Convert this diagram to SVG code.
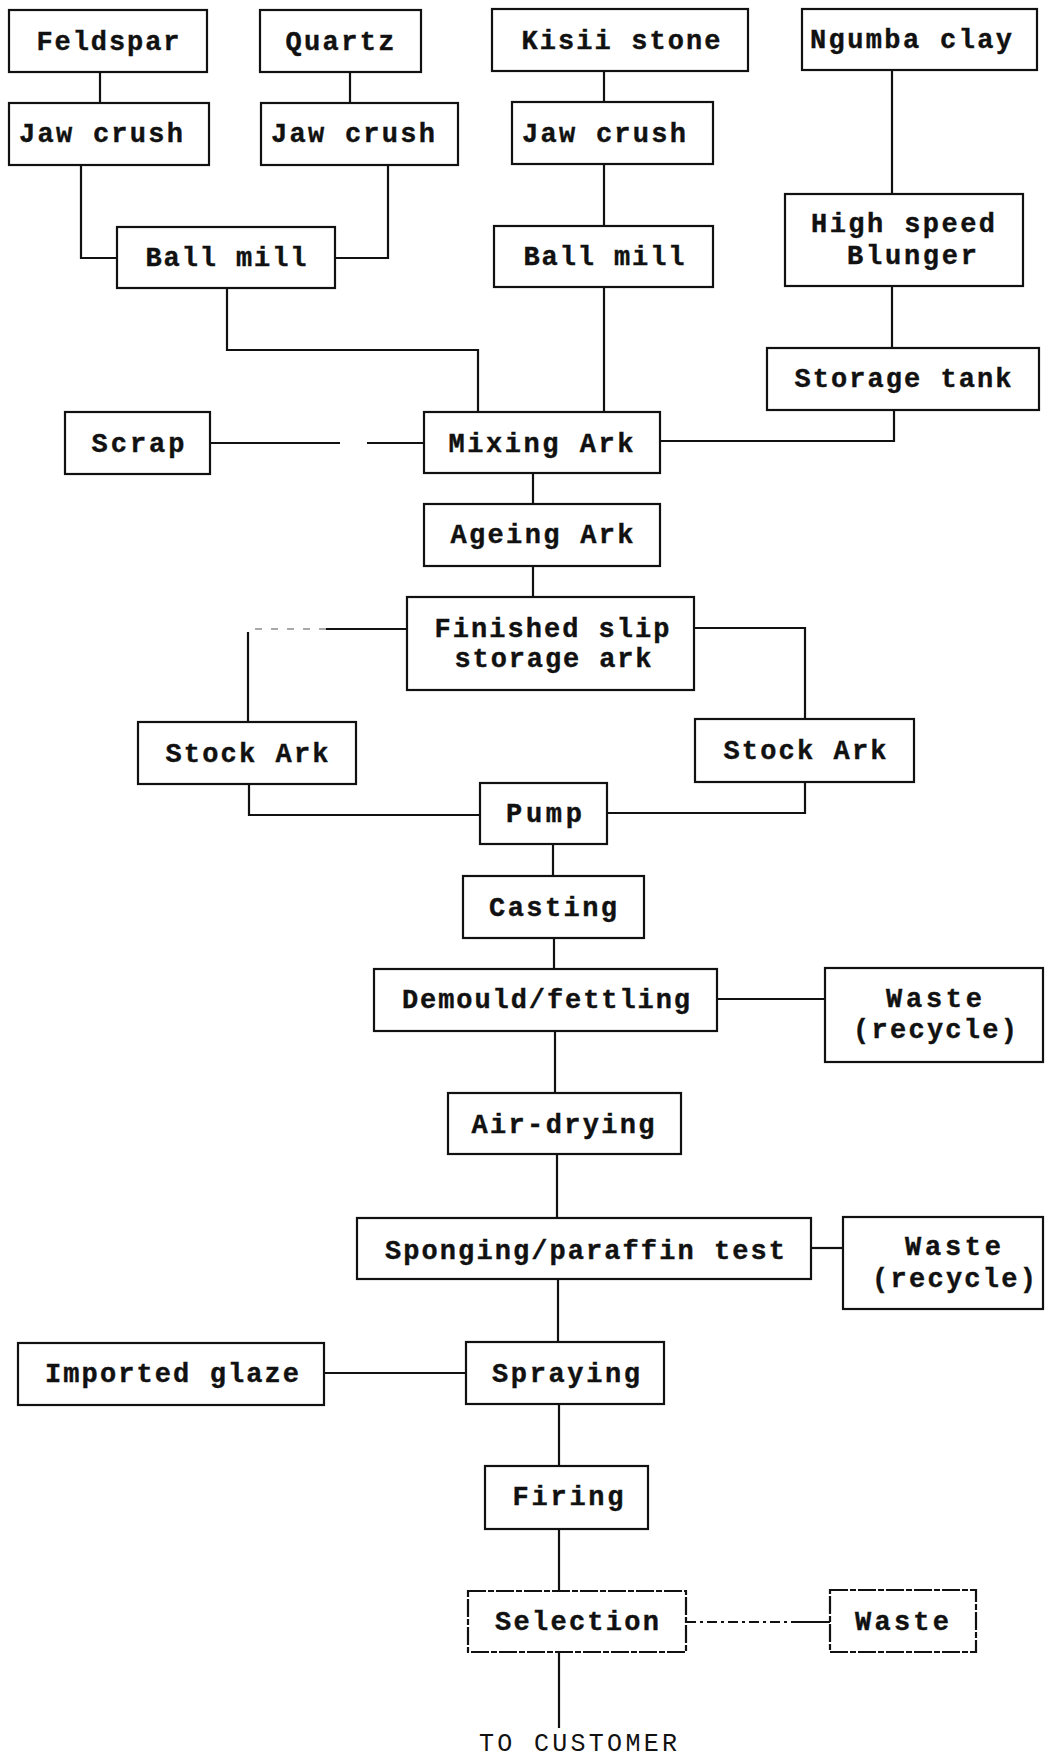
<svg xmlns="http://www.w3.org/2000/svg" width="1047" height="1757" viewBox="0 0 1047 1757">
<style>
.box{fill:#fff;stroke:#111;stroke-width:2.2}
.dbox{fill:#fff;stroke:#111;stroke-width:2.2;stroke-dasharray:18 2 6 2}
.t{font-family:"Liberation Mono",monospace;font-weight:bold;font-size:27px;fill:#111;stroke:#111;stroke-width:0.4;text-anchor:middle}
.tn{font-family:"Liberation Mono",monospace;font-weight:normal;font-size:25px;fill:#111;text-anchor:middle}
.c{fill:none;stroke:#111;stroke-width:2.2}
.cf{fill:none;stroke:#555;stroke-width:1.2;stroke-dasharray:7 9}
.cd{fill:none;stroke:#111;stroke-width:1.8;stroke-dasharray:10 4 3 4}
</style>
<rect width="1047" height="1757" fill="#fff"/>
<g id="connectors">
<path class="c" d="M100,72V103"/>
<path class="c" d="M350,72V103"/>
<path class="c" d="M81,165V258H117"/>
<path class="c" d="M388,165V258H335"/>
<path class="c" d="M227,288V350H478V412"/>
<path class="c" d="M604,71V102"/>
<path class="c" d="M604,164V226"/>
<path class="c" d="M604,287V412"/>
<path class="c" d="M892,70V194"/>
<path class="c" d="M892,286V348"/>
<path class="c" d="M894,410V441H660"/>
<path class="c" d="M210,443H340M367,443H424"/>
<path class="c" d="M533,473V504"/>
<path class="c" d="M533,566V597"/>
<path class="c" d="M407,629H326"/>
<path class="cf" d="M326,629H250"/>
<path class="c" d="M248,632V722"/>
<path class="c" d="M694,628H805V719"/>
<path class="c" d="M249,784V815H480"/>
<path class="c" d="M805,782V813H607"/>
<path class="c" d="M553,844V876"/>
<path class="c" d="M554,938V969"/>
<path class="c" d="M717,999H825"/>
<path class="c" d="M555,1031V1093"/>
<path class="c" d="M557,1154V1218"/>
<path class="c" d="M811,1248H843"/>
<path class="c" d="M558,1279V1342"/>
<path class="c" d="M324,1373H466"/>
<path class="c" d="M559,1404V1466"/>
<path class="c" d="M559,1529V1591"/>
<path class="cd" d="M686,1622H793"/>
<path class="c" d="M793,1622H830"/>
<path class="c" d="M559,1652V1728"/>
</g>
<g id="feldspar"><rect class="box" x="9" y="10" width="198" height="62"/><text class="t" x="108" y="50" textLength="143" lengthAdjust="spacing">Feldspar</text></g>
<g id="quartz"><rect class="box" x="260" y="10" width="161" height="62"/><text class="t" x="340" y="50" textLength="109" lengthAdjust="spacing">Quartz</text></g>
<g id="kisii"><rect class="box" x="492" y="9" width="256" height="62"/><text class="t" x="621" y="49" textLength="199" lengthAdjust="spacing">Kisii stone</text></g>
<g id="ngumba"><rect class="box" x="802" y="9" width="235" height="61"/><text class="t" x="911" y="48" textLength="202" lengthAdjust="spacing">Ngumba clay</text></g>
<g id="jaw1"><rect class="box" x="9" y="103" width="200" height="62"/><text class="t" x="101" y="142" textLength="164" lengthAdjust="spacing">Jaw crush</text></g>
<g id="jaw2"><rect class="box" x="261" y="103" width="197" height="62"/><text class="t" x="353" y="142" textLength="164" lengthAdjust="spacing">Jaw crush</text></g>
<g id="jaw3"><rect class="box" x="512" y="102" width="201" height="62"/><text class="t" x="604" y="142" textLength="164" lengthAdjust="spacing">Jaw crush</text></g>
<g id="ballmill1"><rect class="box" x="117" y="227" width="218" height="61"/><text class="t" x="226" y="266" textLength="161" lengthAdjust="spacing">Ball mill</text></g>
<g id="ballmill2"><rect class="box" x="494" y="226" width="219" height="61"/><text class="t" x="604" y="265" textLength="161" lengthAdjust="spacing">Ball mill</text></g>
<g id="blunger"><rect class="box" x="785" y="194" width="238" height="92"/><text class="t" x="903" y="232" textLength="184" lengthAdjust="spacing">High speed</text><text class="t" x="912" y="264" textLength="130" lengthAdjust="spacing">Blunger</text></g>
<g id="storagetank"><rect class="box" x="767" y="348" width="272" height="62"/><text class="t" x="903" y="387" textLength="217" lengthAdjust="spacing">Storage tank</text></g>
<g id="scrap"><rect class="box" x="65" y="412" width="145" height="62"/><text class="t" x="138" y="452" textLength="93" lengthAdjust="spacing">Scrap</text></g>
<g id="mixing"><rect class="box" x="424" y="412" width="236" height="61"/><text class="t" x="541" y="452" textLength="185" lengthAdjust="spacing">Mixing Ark</text></g>
<g id="ageing"><rect class="box" x="424" y="504" width="236" height="62"/><text class="t" x="542" y="543" textLength="183" lengthAdjust="spacing">Ageing Ark</text></g>
<g id="finished"><rect class="box" x="407" y="597" width="287" height="93"/><text class="t" x="552" y="637" textLength="235" lengthAdjust="spacing">Finished slip</text><text class="t" x="553" y="667" textLength="197" lengthAdjust="spacing">storage ark</text></g>
<g id="stock1"><rect class="box" x="138" y="722" width="218" height="62"/><text class="t" x="247" y="762" textLength="163" lengthAdjust="spacing">Stock Ark</text></g>
<g id="stock2"><rect class="box" x="695" y="719" width="219" height="63"/><text class="t" x="805" y="759" textLength="163" lengthAdjust="spacing">Stock Ark</text></g>
<g id="pump"><rect class="box" x="480" y="783" width="127" height="61"/><text class="t" x="544" y="822" textLength="76" lengthAdjust="spacing">Pump</text></g>
<g id="casting"><rect class="box" x="463" y="876" width="181" height="62"/><text class="t" x="553" y="916" textLength="128" lengthAdjust="spacing">Casting</text></g>
<g id="demould"><rect class="box" x="374" y="969" width="343" height="62"/><text class="t" x="546" y="1008" textLength="288" lengthAdjust="spacing">Demould/fettling</text></g>
<g id="waste1"><rect class="box" x="825" y="968" width="218" height="94"/><text class="t" x="934" y="1007" textLength="96" lengthAdjust="spacing">Waste</text><text class="t" x="935" y="1038" textLength="164" lengthAdjust="spacing">(recycle)</text></g>
<g id="airdrying"><rect class="box" x="448" y="1093" width="233" height="61"/><text class="t" x="563" y="1133" textLength="183" lengthAdjust="spacing">Air-drying</text></g>
<g id="sponging"><rect class="box" x="357" y="1218" width="454" height="61"/><text class="t" x="585" y="1259" textLength="400" lengthAdjust="spacing">Sponging/paraffin test</text></g>
<g id="waste2"><rect class="box" x="843" y="1217" width="200" height="92"/><text class="t" x="953" y="1255" textLength="96" lengthAdjust="spacing">Waste</text><text class="t" x="954" y="1287" textLength="164" lengthAdjust="spacing">(recycle)</text></g>
<g id="glaze"><rect class="box" x="18" y="1343" width="306" height="62"/><text class="t" x="172" y="1382" textLength="254" lengthAdjust="spacing">Imported glaze</text></g>
<g id="spraying"><rect class="box" x="466" y="1342" width="198" height="62"/><text class="t" x="566" y="1382" textLength="148" lengthAdjust="spacing">Spraying</text></g>
<g id="firing"><rect class="box" x="485" y="1466" width="163" height="63"/><text class="t" x="568" y="1505" textLength="111" lengthAdjust="spacing">Firing</text></g>
<g id="selection"><rect class="dbox" x="468" y="1591" width="218" height="61"/><text class="t" x="577" y="1630" textLength="164" lengthAdjust="spacing">Selection</text></g>
<g id="waste3"><rect class="dbox" x="830" y="1590" width="146" height="62"/><text class="t" x="902" y="1630" textLength="94" lengthAdjust="spacing">Waste</text></g>
<g id="customer"><text class="tn" x="578" y="1751" textLength="198" lengthAdjust="spacing">TO CUSTOMER</text></g>
</svg>
